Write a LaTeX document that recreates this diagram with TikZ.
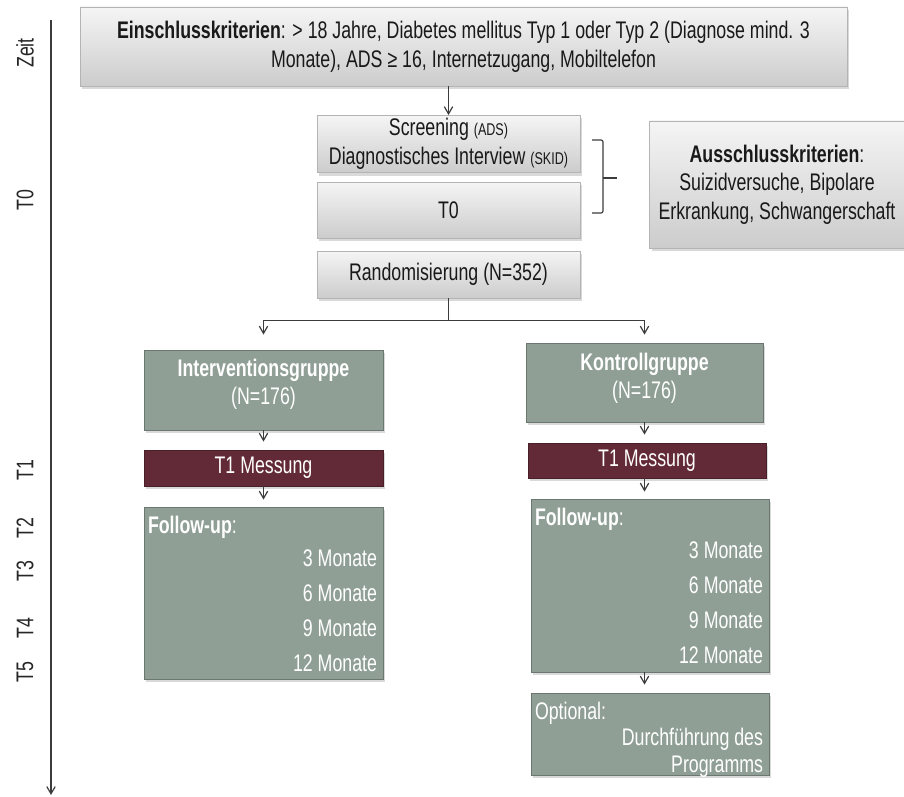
\documentclass[tikz,border=0pt]{standalone}
\usepackage{fontspec}
\setmainfont[FakeStretch=0.74]{Liberation Sans}
\usepackage{xcolor}
\usepackage{tikz}
\usetikzlibrary{positioning, shadows, calc, arrows}

\definecolor{rahmengrau}{RGB}{180,180,180}
\definecolor{gruppengruen}{RGB}{143,159,149}
\definecolor{messrot}{RGB}{98,42,54}
\definecolor{linie}{RGB}{60,60,60}
\newcommand{\klein}{\fontsize{8.5}{10}\selectfont}

\begin{document}
\begin{tikzpicture}[x=0.5pt, y=0.5pt, font=\fontsize{12}{14.3}\selectfont,
	schatten/.style={drop shadow={shadow xshift=1.2pt, shadow yshift=-1.5pt, opacity=0.3}},
	graubox/.style={draw=rahmengrau, top color=white!96!black, bottom color=white!80!black, schatten, align=center, text=black!90, inner sep=0pt},
	gruenbox/.style={draw=gruppengruen!75!black, fill=gruppengruen, schatten, inner sep=0pt},
	rotbox/.style={draw=messrot!75!black, fill=messrot, schatten, text=white, inner sep=0pt},
	boxtext/.style={text=white, align=center, inner sep=0pt},
	pfeil/.style={->, >=angle 60, draw=linie, line width=0.6pt},
	zeitlabel/.style={rotate=90, text=black!85}]
	\useasboundingbox (0,0) rectangle (904,-797);

	% Zeitachse
	\draw [pfeil] (51,-20) -- (51,-795);
	\foreach \lab/\y in {Zeit/53, T0/200, T1/470, T2/528, T3/571, T4/628, T5/672}
		\node [zeitlabel] (z\lab) at (25,-\y) {\lab};

	\node [graubox, minimum width=383.5pt, minimum height=39.5pt] (einschluss) at (463.5,-46.5)
		{\textbf{Einschlusskriterien}: > 18 Jahre, Diabetes mellitus Typ 1 oder Typ 2 (Diagnose mind. 3\\Monate), ADS ≥ 16, Internetzugang, Mobiltelefon};

	\node [graubox, minimum width=131.5pt, minimum height=28.5pt] (scr) at (448.5,-144)
		{Screening {\klein(ADS)}\\Diagnostisches Interview {\klein(SKID)}};
	\node [graubox, minimum width=131.5pt, minimum height=28pt] (t0) at (448.5,-210) {T0};
	\node [graubox, minimum width=131.5pt, minimum height=23.5pt] (rand) at (448.5,-274.5) {Randomisierung (N=352)};

	\node [graubox, minimum width=127.5pt, minimum height=63.5pt] (aus) at (777,-184.5)
		{\textbf{Ausschlusskriterien}:\\Suizidversuche, Bipolare\\Erkrankung, Schwangerschaft};
	\draw [linie, line width=0.6pt, rounded corners=1pt] (592,-140) -- (603,-140) -- (603,-213) -- (592,-213);
	\draw [linie, line width=0.6pt] (603,-178) -- (617,-178);

	% Interventionsgruppe
	\node [gruenbox, minimum width=119.5pt, minimum height=40pt] (ig) at (263.5,-390) {};
	\node [boxtext, below=4.5pt of ig.north] (igname) {\textbf{Interventionsgruppe}\\(N=176)};
	\node [rotbox, minimum width=119.5pt, minimum height=18pt] (igt1) at (263.5,-468) {T1 Messung};
	\node [gruenbox, minimum width=119.5pt, minimum height=86pt] (igfu) at (263.5,-593) {};

	% Kontrollgruppe
	\node [gruenbox, minimum width=118.5pt, minimum height=39.5pt] (kg) at (644.5,-382.5) {};
	\node [boxtext, below=5pt of kg.north] (kgname) {\textbf{Kontrollgruppe}\\(N=176)};
	\node [rotbox, minimum width=119pt, minimum height=17.5pt] (kgt1) at (647,-460.5) {T1 Messung};
	\node [gruenbox, minimum width=119pt, minimum height=86.5pt] (kgfu) at (650,-585.5) {};
	\node [gruenbox, minimum width=119pt, minimum height=41pt] (opt) at (650,-734) {};

	\foreach \fu in {igfu, kgfu} {
		\node [boxtext, anchor=base west] (\fu titel) at ([xshift=2pt, yshift=-13.5pt]\fu.north west) {\textbf{Follow-up}:};
		\foreach \m [count=\i] in {3,6,9,12}
			\node [boxtext, anchor=base east] (\fu m\i) at ([xshift=-3pt, yshift={-(12.5pt+17.5pt*\i)}]\fu.north east) {\m\ Monate};
	}
	\node [boxtext, anchor=base west] (opttitel) at ([xshift=2pt, yshift=-13.5pt]opt.north west) {Optional:};
	\node [boxtext, anchor=base east] (opttext1) at ([xshift=-3pt, yshift=-26.5pt]opt.north east) {Durchführung des};
	\node [boxtext, anchor=base east] (opttext2) at ([xshift=-3pt, yshift=-40pt]opt.north east) {Programms};

	% Verbindungen
	\coordinate (split) at ([yshift=-11pt]rand.south);
	\draw [pfeil] (einschluss.south -| scr.north) -- (scr.north);
	\draw [pfeil, shorten >=7.5pt] (rand.south) -- (split) -| (ig.north);
	\draw [pfeil, shorten >=4pt] (split) -| (kg.north);
	\draw [pfeil, shorten >=4pt] (ig) -- (igt1);
	\draw [pfeil, shorten >=3.5pt] (igt1) -- (igfu);
	\draw [pfeil, shorten >=4pt] (kg.south) -- (kg.south |- kgt1.north);
	\draw [pfeil, shorten >=3.5pt] (kg.south |- kgt1.south) -- (kg.south |- kgfu.north);
	\draw [pfeil, shorten >=4pt] (kg.south |- kgfu.south) -- (kg.south |- opt.north);
\end{tikzpicture}
\end{document}
